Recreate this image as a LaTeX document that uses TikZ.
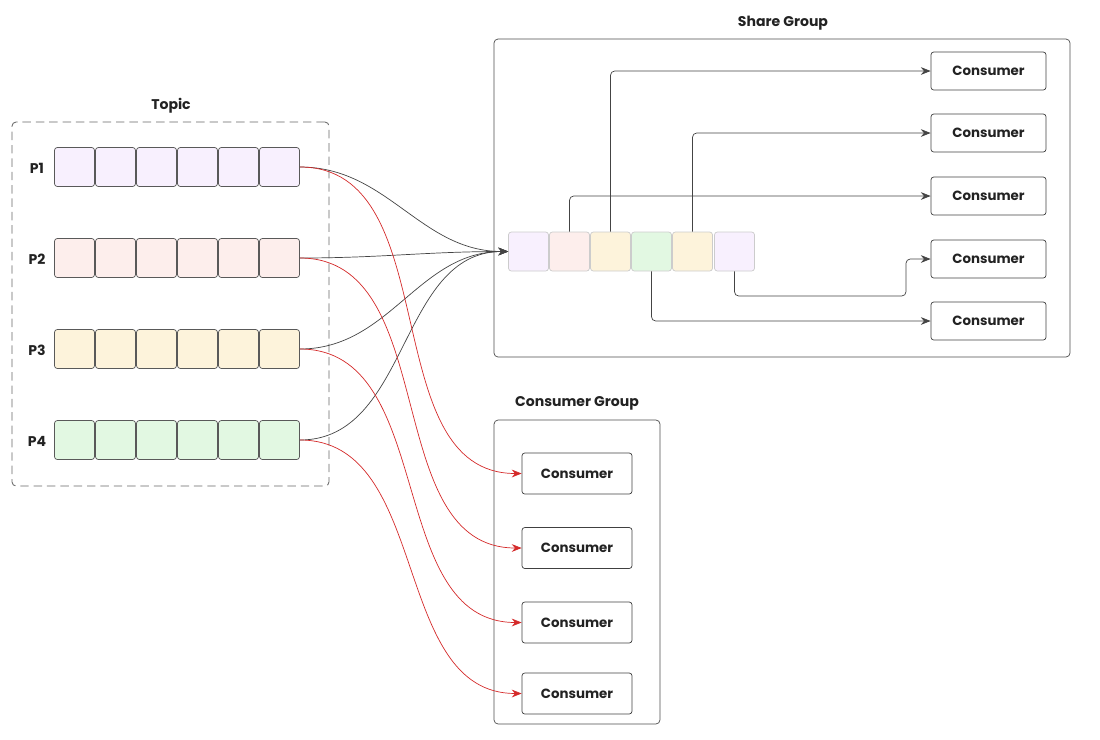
\documentclass[tikz,border=0pt]{standalone}
\usepackage{fontspec}
\setmainfont{Poppins}
\usepackage{tikz}
\usetikzlibrary{arrows.meta}
\definecolor{lav}{HTML}{F8F0FE}
\definecolor{pinkc}{HTML}{FDEEEC}
\definecolor{yelc}{HTML}{FDF3DB}
\definecolor{grnc}{HTML}{E2F8E2}
\definecolor{linec}{HTML}{444444}
\definecolor{redc}{HTML}{D42A2A}
\definecolor{txtc}{HTML}{222222}
\tikzstyle{cell}=[rectangle,rounded corners=2pt,minimum width=1.0cm,minimum height=0.975cm,inner sep=0pt,draw=black!65,line width=0.5pt]
\tikzstyle{qcell}=[cell,draw=black!20]
\tikzstyle{consumer}=[rectangle,rounded corners=2pt,draw=black!75,line width=0.5pt,minimum width=2.875cm,minimum height=0.95cm,text=txtc,text depth=0pt,font=\bfseries\fontsize{9.5}{11}\selectfont]
\tikzstyle{group}=[rectangle,rounded corners=3pt,draw=black!70,line width=0.5pt,inner sep=0pt]
\tikzstyle{annot}=[align=center,text=txtc,font=\bfseries\fontsize{10}{12}\selectfont]
\tikzstyle{link}=[draw=linec,line width=0.5pt,-{Stealth[length=7pt,width=5.5pt]}]
\tikzstyle{redlink}=[draw=redc,line width=0.5pt,-{Stealth[length=7pt,width=5.5pt]}]
\begin{document}
\begin{tikzpicture}[x=0.025cm,y=-0.025cm]
	\useasboundingbox (0,0) rectangle (1100,739);

	% topic with its partitions
	\node[group, draw=black!60, line width=0.6pt, dash pattern=on 6pt off 3.5pt, minimum width=7.925cm, minimum height=9.1cm](topic) at (170.5,304){};
	\node[annot] (topiclbl) at (171,105.5) {Topic};
	\foreach \p/\y/\col in {1/167/lav, 2/258/pinkc, 3/349/yelc, 4/440/grnc}
	{
		\node[annot] (lbl\p) at (37,\y+1) {P\p};
		\foreach \c in {1,...,6}
			\node[cell, fill=\col](p\p c\c) at (54+41*\c-20.5,\y){};
	}

	% share group
	\node[group, minimum width=14.4cm, minimum height=7.95cm](share) at (782,198){};
	\node[annot] (sharelbl) at (783,23.5) {Share Group};
	\node[qcell, fill=lav](q1) at (528.5,251.5){};
	\node[qcell, fill=pinkc](q2) at (569.5,251.5){};
	\node[qcell, fill=yelc](q3) at (610.5,251.5){};
	\node[qcell, fill=grnc](q4) at (651.5,251.5){};
	\node[qcell, fill=yelc](q5) at (692.5,251.5){};
	\node[qcell, fill=lav](q6) at (734.5,251.5){};
	\node[consumer](s1) at (988.5,71){Consumer};
	\node[consumer](s2) at (988.5,133){Consumer};
	\node[consumer](s3) at (988.5,196){Consumer};
	\node[consumer](s4) at (988.5,259){Consumer};
	\node[consumer](s5) at (988.5,321){Consumer};
	\coordinate (bend) at (906,296);

	\draw[link, rounded corners=3pt] (q3.north) |- (s1.west);
	\draw[link, rounded corners=3pt] (q5.north) |- (s2.west);
	\draw[link, rounded corners=3pt] (q2.north) |- (s3.west);
	\draw[link, rounded corners=3pt] (q6.south) |- (bend) |- (s4.west);
	\draw[link, rounded corners=3pt] (q4.south) |- (s5.west);

	% consumer group
	\node[group, minimum width=4.15cm, minimum height=7.6cm](cgroup) at (577,572){};
	\node[annot] (cgrouplbl) at (577,403.5) {Consumer Group};
	\node[consumer, minimum width=2.75cm, minimum height=1.025cm](c1) at (577,473.5){Consumer};
	\node[consumer, minimum width=2.75cm, minimum height=1.025cm](c2) at (577,548){Consumer};
	\node[consumer, minimum width=2.75cm, minimum height=1.025cm](c3) at (577,622.5){Consumer};
	\node[consumer, minimum width=2.75cm, minimum height=1.025cm](c4) at (577,693.5){Consumer};

	% partitions to share group queue
	\foreach \p in {1,...,4}
		\draw[link] (p\p c6.east) to[out=0,in=180] (q1.west);

	% partitions to consumer group
	\foreach \p in {1,...,4}
		\draw[redlink] (p\p c6.east) to[out=0,in=180] (c\p.west);

\end{tikzpicture}
\end{document}
